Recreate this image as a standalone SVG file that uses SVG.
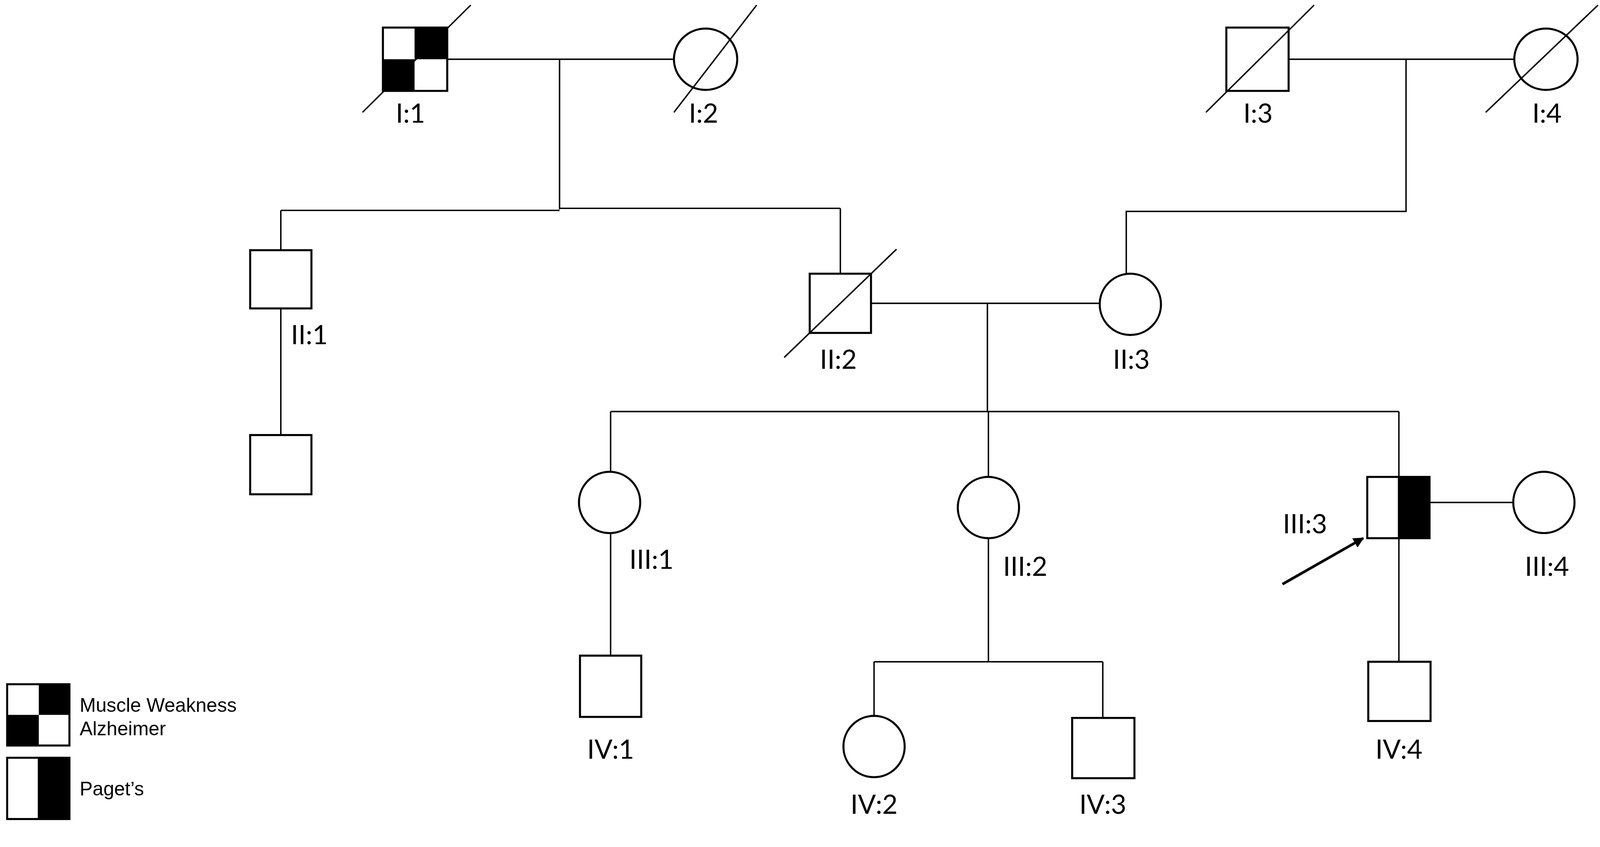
<svg xmlns="http://www.w3.org/2000/svg" width="4209" height="2168" viewBox="0 0 4209 2168">
<style>
.l{stroke:#000;stroke-width:1.4;fill:none}
.s{stroke:#000;stroke-width:2;fill:#fff}
.k{fill:#000}
.t{font-family:Lato,"Open Sans",sans-serif;font-size:26px;fill:#000;text-anchor:middle}
.g{font-family:"Liberation Sans",Arial,sans-serif;font-size:19px;fill:#000}
</style>
<defs><marker id="ah" viewBox="0 0 10 10" refX="9" refY="5" markerWidth="4" markerHeight="4" orient="auto"><path d="M0,0L10,5L0,10z" fill="#000"/></marker></defs>
<rect width="4209" height="2168" fill="#fff"/>
<g transform="scale(2.614)">
<g id="connectors">
<path class="l" d="M438,58H660M548,58V205M275,206H548M548,204H823M275,206V245M823,204V268"/>
<path class="l" d="M1262,58H1483M1377,58V207H1103V268"/>
<path class="l" d="M853,297H1077M967,297V403M598,403H1370M598,403V462M968,403V467M1370,403V467"/>
<path class="l" d="M275,302V426M598,522V642M968,527V648M856,648H1080M856,648V701M1080,648V703M1400,492H1482M1370,527V648"/>
<line x1="1256" y1="572" x2="1335" y2="527" stroke="#000" stroke-width="2.6" marker-end="url(#ah)"/>
</g>
<g id="I1"><rect class="s" x="375" y="27" width="63" height="62"/><rect class="k" x="406" y="27" width="32" height="31"/><rect class="k" x="375" y="58" width="31" height="31"/><line class="l" x1="355" y1="110" x2="461" y2="5"/><text class="t" x="402" y="120">I:1</text></g>
<g id="I2"><ellipse class="s" cx="691" cy="58" rx="31" ry="30"/><line class="l" x1="660" y1="110" x2="741" y2="5"/><text class="t" x="689" y="120">I:2</text></g>
<g id="I3"><rect class="s" x="1201" y="27" width="61" height="62"/><line class="l" x1="1181" y1="110" x2="1287" y2="5"/><text class="t" x="1232" y="120">I:3</text></g>
<g id="I4"><ellipse class="s" cx="1514" cy="58" rx="31" ry="30"/><line class="l" x1="1455" y1="110" x2="1565" y2="5"/><text class="t" x="1515" y="120">I:4</text></g>
<g id="II1"><rect class="s" x="245" y="245" width="60" height="57"/><text class="t" x="303" y="337">II:1</text></g>
<g id="II1c"><rect class="s" x="245" y="426" width="60" height="58"/></g>
<g id="II2"><rect class="s" x="793" y="268" width="60" height="58"/><line class="l" x1="768" y1="350" x2="878" y2="244"/><text class="t" x="821" y="361">II:2</text></g>
<g id="II3"><ellipse class="s" cx="1107" cy="298" rx="30" ry="30"/><text class="t" x="1108" y="361">II:3</text></g>
<g id="III1"><ellipse class="s" cx="597" cy="492" rx="30" ry="30"/><text class="t" x="638" y="557">III:1</text></g>
<g id="III2"><ellipse class="s" cx="968" cy="497" rx="30" ry="30"/><text class="t" x="1004" y="564">III:2</text></g>
<g id="III3"><rect class="s" x="1339" y="467" width="61" height="60"/><rect class="k" x="1369" y="467" width="31" height="60"/><text class="t" x="1278" y="522">III:3</text></g>
<g id="III4"><ellipse class="s" cx="1512" cy="492" rx="30" ry="30"/><text class="t" x="1515" y="564">III:4</text></g>
<g id="IV1"><rect class="s" x="568" y="642" width="60" height="60"/><text class="t" x="598" y="743">IV:1</text></g>
<g id="IV2"><ellipse class="s" cx="856" cy="731" rx="30" ry="30"/><text class="t" x="856" y="797">IV:2</text></g>
<g id="IV3"><rect class="s" x="1050" y="703" width="61" height="59"/><text class="t" x="1080" y="797">IV:3</text></g>
<g id="IV4"><rect class="s" x="1340" y="648" width="61" height="58"/><text class="t" x="1370" y="743">IV:4</text></g>
<g id="legend1"><rect class="s" x="7" y="670" width="61" height="60"/><rect class="k" x="38" y="670" width="30" height="30"/><rect class="k" x="7" y="700" width="31" height="30"/><text class="g" x="78" y="697">Muscle Weakness</text><text class="g" x="78" y="720">Alzheimer</text></g>
<g id="legend2"><rect class="s" x="7" y="742" width="61" height="60"/><rect class="k" x="37" y="742" width="31" height="60"/><text class="g" x="78" y="779">Paget’s</text></g>
</g>
</svg>
